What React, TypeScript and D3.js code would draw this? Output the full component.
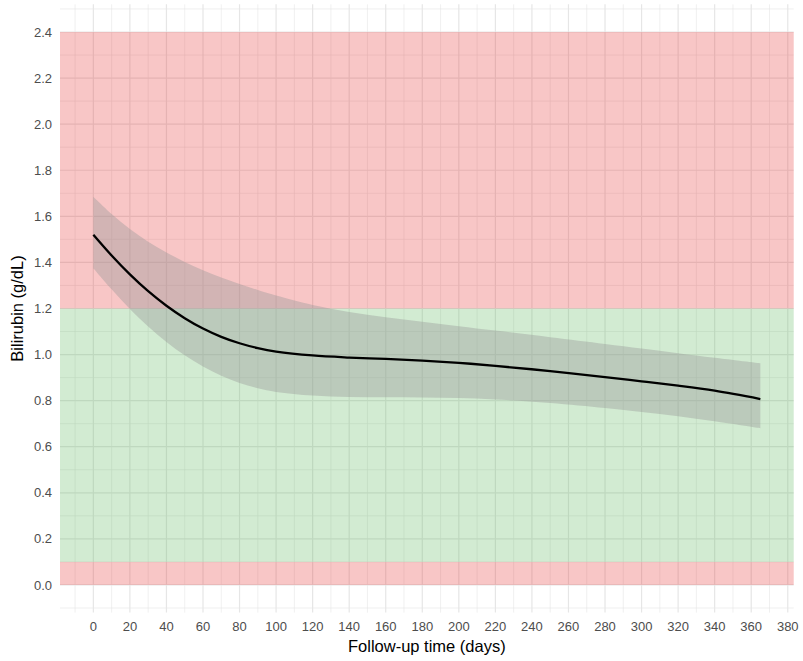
import React from "react";
import * as d3 from "d3";

const days = [0, 10, 20, 30, 40, 50, 60, 70, 80, 90, 100, 120, 140, 160, 180, 200, 220, 250, 280, 300, 320, 340, 365];
const fitValues = [1.52, 1.43, 1.348, 1.275, 1.212, 1.158, 1.113, 1.077, 1.049, 1.028, 1.013, 0.996, 0.987, 0.981, 0.974, 0.964, 0.951, 0.928, 0.902, 0.884, 0.865, 0.843, 0.807];
const upperValues = [1.685, 1.61, 1.545, 1.49, 1.443, 1.402, 1.366, 1.334, 1.306, 1.28, 1.256, 1.215, 1.185, 1.162, 1.142, 1.123, 1.104, 1.075, 1.046, 1.026, 1.006, 0.986, 0.962];
const lowerValues = [1.375, 1.283, 1.198, 1.122, 1.055, 0.997, 0.948, 0.908, 0.877, 0.854, 0.838, 0.822, 0.816, 0.815, 0.814, 0.811, 0.805, 0.79, 0.768, 0.751, 0.732, 0.71, 0.68];

const bandLows = [0, 0.1, 1.2];
const bandHighs = [0.1, 1.2, 2.4];
const bandColors = ["#E41A1C", "#4DAF4A", "#E41A1C"];

const xTicks = d3.range(0, 381, 20);
const xMinor = d3.range(-10, 381, 20);
const yTicks = d3.range(0, 13).map((i) => +(i * 0.2).toFixed(1));
const yMinor = d3.range(0, 14).map((i) => +(-0.1 + i * 0.2).toFixed(1));

const W = 803;
const H = 661;
const left = 60;
const right = 793.7;
const top = 4.35;
const bottom = 612.6;

export default function App() {
  const x = d3.scaleLinear().domain([-18.25, 383.25]).range([left, right]);
  const y = d3.scaleLinear().domain([-0.12, 2.52]).range([bottom, top]);

  const pts = days.map((d, i) => ({ d, f: fitValues[i], lo: lowerValues[i], hi: upperValues[i] }));
  const area = d3
    .area<any>()
    .x((p) => x(p.d))
    .y0((p) => y(p.lo))
    .y1((p) => y(p.hi))
    .curve(d3.curveCatmullRom);
  const line = d3
    .line<any>()
    .x((p) => x(p.d))
    .y((p) => y(p.f))
    .curve(d3.curveCatmullRom);

  const font = "Liberation Sans, Arial, Helvetica, sans-serif";

  return (
    <svg width={W} height={H} style={{ position: "absolute", left: 0, top: 0 }} fontFamily={font}>
      <rect x={0} y={0} width={W} height={H} fill="white" />
      {xMinor.map((v) => (
        <line key={"xm" + v} x1={x(v)} x2={x(v)} y1={top} y2={bottom} stroke="#e6e6e6" strokeWidth={0.6} />
      ))}
      {yMinor.map((v) => (
        <line key={"ym" + v} x1={left} x2={right} y1={y(v)} y2={y(v)} stroke="#e6e6e6" strokeWidth={0.6} />
      ))}
      {xTicks.map((v) => (
        <line key={"xt" + v} x1={x(v)} x2={x(v)} y1={top} y2={bottom} stroke="#e6e6e6" strokeWidth={1.2} />
      ))}
      {yTicks.map((v) => (
        <line key={"yt" + v} x1={left} x2={right} y1={y(v)} y2={y(v)} stroke="#e6e6e6" strokeWidth={1.2} />
      ))}
      {bandLows.map((lo, i) => (
        <rect
          key={"b" + i}
          x={left}
          width={right - left}
          y={y(bandHighs[i])}
          height={y(lo) - y(bandHighs[i])}
          fill={bandColors[i]}
          fillOpacity={0.25}
        />
      ))}
      <path d={area(pts) || ""} fill="#999999" fillOpacity={0.4} />
      <path d={line(pts) || ""} fill="none" stroke="black" strokeWidth={2.3} />
      {xTicks.map((v) => (
        <text key={"xl" + v} x={x(v)} y={631} textAnchor="middle" fontSize={13} fill="#4d4d4d">
          {v}
        </text>
      ))}
      {yTicks.map((v) => (
        <text key={"yl" + v} x={52} y={y(v) + 4.6} textAnchor="end" fontSize={13} fill="#4d4d4d">
          {v.toFixed(1)}
        </text>
      ))}
      <text x={(left + right) / 2} y={652} textAnchor="middle" fontSize={16.5} fill="black">
        Follow-up time (days)
      </text>
      <text
        transform={`translate(23, ${(top + bottom) / 2}) rotate(-90)`}
        textAnchor="middle"
        fontSize={16.5}
        fill="black"
      >
        Bilirubin (g/dL)
      </text>
    </svg>
  );
}
